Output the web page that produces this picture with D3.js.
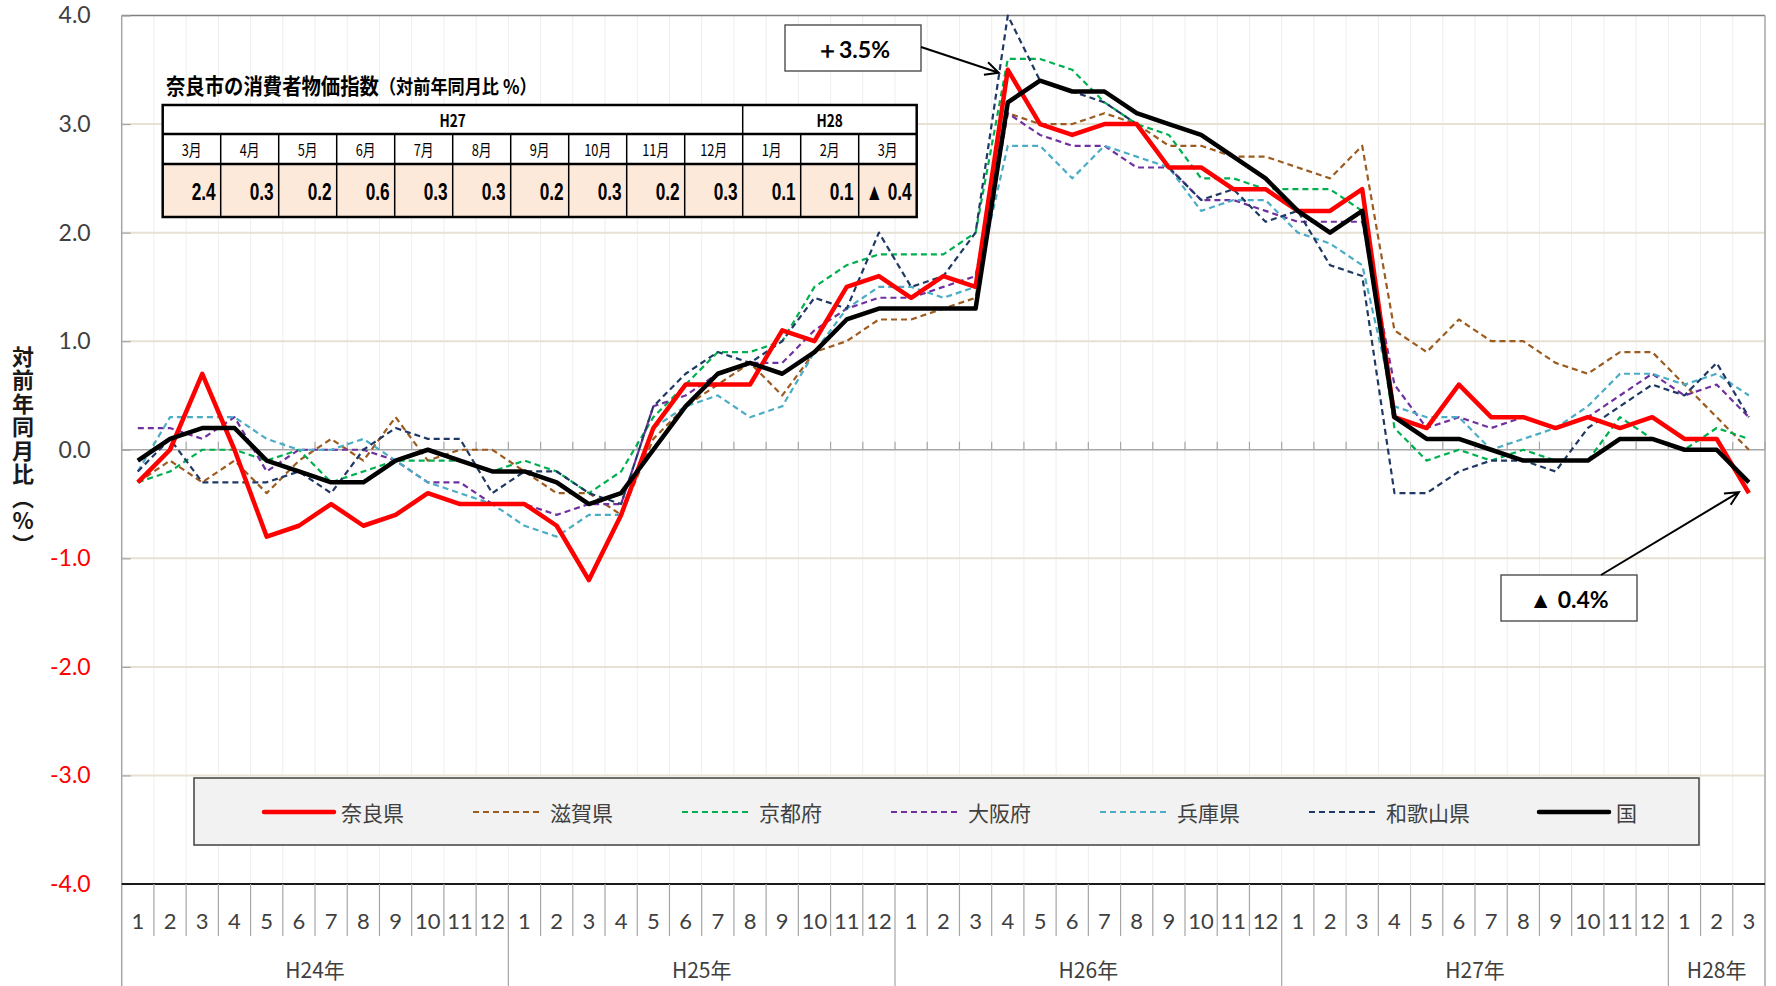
<!DOCTYPE html>
<html lang="ja">
<head>
<meta charset="utf-8">
<title>奈良県 消費者物価指数 対前年同月比</title>
<script src="https://d3js.org/d3.v7.min.js"></script>
<style>
  body { margin: 0; background: #fff; }
  svg { display: block; }
  .num { font-family: Lato, "Noto Sans", sans-serif; }
  .jp { font-family: "Noto Sans CJK JP", "Noto Sans", sans-serif; }
</style>
</head>
<body>
<svg id="chart" width="1776" height="986"></svg>
<script>
// ---- data ----
var monthLabels = ["1","2","3","4","5","6","7","8","9","10","11","12",
                   "1","2","3","4","5","6","7","8","9","10","11","12",
                   "1","2","3","4","5","6","7","8","9","10","11","12",
                   "1","2","3","4","5","6","7","8","9","10","11","12",
                   "1","2","3"];
var yearLabels = ["H24年", "H25年", "H26年", "H27年", "H28年"];
var yearLengths = [12, 12, 12, 12, 3];
var yTicks = [-4, -3, -2, -1, 0, 1, 2, 3, 4];

var seriesNames = ["奈良県", "滋賀県", "京都府", "大阪府", "兵庫県", "和歌山県", "国"];

var nara = [-0.3, 0.0, 0.7, 0.0, -0.8, -0.7, -0.5, -0.7, -0.6, -0.4, -0.5, -0.5,
            -0.5, -0.7, -1.2, -0.6, 0.2, 0.6, 0.6, 0.6, 1.1, 1.0, 1.5, 1.6,
            1.4, 1.6, 1.5, 3.5, 3.0, 2.9, 3.0, 3.0, 2.6, 2.6, 2.4, 2.4,
            2.2, 2.2, 2.4, 0.3, 0.2, 0.6, 0.3, 0.3, 0.2, 0.3, 0.2, 0.3,
            0.1, 0.1, -0.4];
var shiga = [-0.3, -0.1, -0.3, -0.1, -0.4, -0.1, 0.1, -0.1, 0.3, -0.1, 0.0, 0.0,
             -0.2, -0.4, -0.4, -0.6, 0.1, 0.4, 0.6, 0.8, 0.5, 0.9, 1.0, 1.2,
             1.2, 1.3, 1.4, 3.1, 3.0, 3.0, 3.1, 3.0, 2.8, 2.8, 2.7, 2.7,
             2.6, 2.5, 2.8, 1.1, 0.9, 1.2, 1.0, 1.0, 0.8, 0.7, 0.9, 0.9,
             0.6, 0.3, 0.0];
var kyoto = [-0.3, -0.2, 0.0, 0.0, -0.1, 0.0, -0.3, -0.2, -0.1, -0.1, -0.1, -0.2,
             -0.1, -0.2, -0.4, -0.2, 0.3, 0.6, 0.9, 0.9, 1.0, 1.5, 1.7, 1.8,
             1.8, 1.8, 2.0, 3.6, 3.6, 3.5, 3.2, 3.0, 2.9, 2.5, 2.5, 2.4,
             2.4, 2.4, 2.2, 0.2, -0.1, 0.0, -0.1, 0.0, -0.1, -0.1, 0.3, 0.1,
             0.0, 0.2, 0.1];
var osaka = [0.2, 0.2, 0.1, 0.3, -0.2, 0.0, 0.0, 0.0, -0.1, -0.3, -0.3, -0.5,
             -0.5, -0.6, -0.5, -0.5, 0.4, 0.5, 0.7, 0.8, 0.8, 1.1, 1.3, 1.4,
             1.4, 1.5, 1.6, 3.1, 2.9, 2.8, 2.8, 2.6, 2.6, 2.3, 2.3, 2.2,
             2.1, 2.1, 2.1, 0.6, 0.2, 0.3, 0.2, 0.3, 0.2, 0.3, 0.5, 0.7,
             0.5, 0.6, 0.3];
var hyogo = [-0.2, 0.3, 0.3, 0.3, 0.1, 0.0, 0.0, 0.1, -0.1, -0.3, -0.4, -0.5,
             -0.7, -0.8, -0.6, -0.6, 0.2, 0.4, 0.5, 0.3, 0.4, 0.9, 1.3, 1.5,
             1.5, 1.4, 1.5, 2.8, 2.8, 2.5, 2.8, 2.7, 2.6, 2.2, 2.3, 2.3,
             2.0, 1.9, 1.7, 0.4, 0.3, 0.3, 0.0, 0.1, 0.2, 0.4, 0.7, 0.7,
             0.6, 0.7, 0.5];
var wakayama = [-0.2, 0.1, -0.3, -0.3, -0.3, -0.2, -0.4, 0.0, 0.2, 0.1, 0.1, -0.4,
                -0.2, -0.2, -0.4, -0.5, 0.4, 0.7, 0.9, 0.8, 1.0, 1.4, 1.3, 2.0,
                1.5, 1.6, 2.0, 4.0, 3.4, 3.3, 3.2, 3.0, 2.6, 2.3, 2.4, 2.1,
                2.2, 1.7, 1.6, -0.4, -0.4, -0.2, -0.1, -0.1, -0.2, 0.2, 0.4, 0.6,
                0.5, 0.8, 0.3];
var kuni = [-0.1, 0.1, 0.2, 0.2, -0.1, -0.2, -0.3, -0.3, -0.1, 0.0, -0.1, -0.2,
            -0.2, -0.3, -0.5, -0.4, 0.0, 0.4, 0.7, 0.8, 0.7, 0.9, 1.2, 1.3,
            1.3, 1.3, 1.3, 3.2, 3.4, 3.3, 3.3, 3.1, 3.0, 2.9, 2.7, 2.5,
            2.2, 2.0, 2.2, 0.3, 0.1, 0.1, 0.0, -0.1, -0.1, -0.1, 0.1, 0.1,
            0.0, 0.0, -0.3];

// inset table (奈良市)
var tableYears = ["H27", "H28"];
var tableYearSpans = [10, 3];
var tableMonths = ["3月","4月","5月","6月","7月","8月","9月","10月","11月","12月","1月","2月","3月"];
var tableValues = [2.4, 0.3, 0.2, 0.6, 0.3, 0.3, 0.2, 0.3, 0.2, 0.3, 0.1, 0.1, -0.4];

// ---- styles ----
var seriesValues = [nara, shiga, kyoto, osaka, hyogo, wakayama, kuni];
var seriesStyle = {
    "奈良県":   {color: "#ff0000", width: 4.5, dash: null},
    "滋賀県":   {color: "#9c5b1f", width: 2.2, dash: "6,4"},
    "京都府":   {color: "#00b050", width: 2.2, dash: "6,4"},
    "大阪府":   {color: "#7030a0", width: 2.2, dash: "6,4"},
    "兵庫県":   {color: "#4bacc6", width: 2.2, dash: "6,4"},
    "和歌山県": {color: "#1f3864", width: 2.2, dash: "6,4"},
    "国":       {color: "#000000", width: 4.5, dash: null}
};

var svg = d3.select("#chart");
var plotL = 121.7, plotR = 1765, plotT = 15.5, plotB = 884;

var x = d3.scaleBand().domain(d3.range(monthLabels.length)).range([plotL, plotR]).padding(0);
var y = d3.scaleLinear().domain([-4, 4]).range([plotB, plotT]);
var bw = x.bandwidth();
function xc(i) { return x(i) + bw / 2; }

// vertical grid (month boundaries)
svg.append("g").selectAll("line")
    .data(d3.range(1, monthLabels.length))
    .enter().append("line")
    .attr("x1", function(i) { return x(i); }).attr("x2", function(i) { return x(i); })
    .attr("y1", plotT).attr("y2", plotB)
    .attr("stroke", "#eeeeee").attr("stroke-width", 1);

// horizontal grid
svg.append("g").selectAll("line")
    .data(yTicks.filter(function(d) { return d !== 0 && d !== 4 && d !== -4; }))
    .enter().append("line")
    .attr("x1", plotL).attr("x2", plotR)
    .attr("y1", function(d) { return y(d); }).attr("y2", function(d) { return y(d); })
    .attr("stroke", "#e6e1d3").attr("stroke-width", 2);

// plot border top / right
svg.append("line").attr("x1", plotL).attr("x2", plotR).attr("y1", plotT).attr("y2", plotT)
    .attr("stroke", "#7f7f7f").attr("stroke-width", 1.5);
svg.append("line").attr("x1", plotR).attr("x2", plotR).attr("y1", plotT).attr("y2", 986)
    .attr("stroke", "#a6a6a6").attr("stroke-width", 1.5);

// zero line with ticks
svg.append("line").attr("x1", plotL).attr("x2", plotR).attr("y1", y(0)).attr("y2", y(0))
    .attr("stroke", "#a6a6a6").attr("stroke-width", 1.5);
svg.append("g").selectAll("line")
    .data(d3.range(0, monthLabels.length + 1))
    .enter().append("line")
    .attr("x1", function(i) { return plotL + i * bw; }).attr("x2", function(i) { return plotL + i * bw; })
    .attr("y1", y(0)).attr("y2", y(0) - 8)
    .attr("stroke", "#a6a6a6").attr("stroke-width", 1.2);

// y axis
var yAxis = svg.append("g")
    .attr("transform", "translate(" + plotL + ",0)")
    .call(d3.axisLeft(y).tickValues(yTicks)
        .tickFormat(function(d) { return d.toFixed(1); })
        .tickSizeInner(-9).tickSizeOuter(0).tickPadding(31));
yAxis.select(".domain").remove();
yAxis.selectAll(".tick line").attr("stroke", "#a6a6a6").attr("stroke-width", 1.2);
yAxis.selectAll(".tick text")
    .attr("class", "num")
    .style("font-size", "23px")
    .attr("fill", function(d) { return d < 0 ? "#ff0000" : "#404040"; });
svg.append("line").attr("x1", plotL).attr("x2", plotL).attr("y1", plotT).attr("y2", 986)
    .attr("stroke", "#a6a6a6").attr("stroke-width", 1.5);

// y axis title (vertical)
svg.append("text")
    .attr("class", "jp")
    .attr("x", 23).attr("y", 451)
    .attr("text-anchor", "middle")
    .style("writing-mode", "vertical-rl")
    .style("text-orientation", "upright")
    .style("font-size", "22px").style("font-weight", "bold")
    .style("letter-spacing", "1.5px")
    .attr("fill", "#1a1a1a")
    .text("対前年同月比（%）");

// bottom category axis
svg.append("line").attr("x1", plotL).attr("x2", plotR).attr("y1", plotB).attr("y2", plotB)
    .attr("stroke", "#1a1a1a").attr("stroke-width", 2);
var yearStarts = [0].concat(Array.from(d3.cumsum(yearLengths)));
svg.append("g").selectAll("line")
    .data(d3.range(1, monthLabels.length))
    .enter().append("line")
    .attr("x1", function(i) { return x(i); }).attr("x2", function(i) { return x(i); })
    .attr("y1", plotB)
    .attr("y2", function(i) { return yearStarts.indexOf(i) >= 0 ? 986 : 936; })
    .attr("stroke", "#a6a6a6").attr("stroke-width", 1.2);

svg.append("g").selectAll("text")
    .data(monthLabels)
    .enter().append("text")
    .attr("class", "num")
    .attr("x", function(d, i) { return xc(i); })
    .attr("y", 920)
    .attr("text-anchor", "middle").attr("dominant-baseline", "central")
    .style("font-size", "22px").attr("fill", "#404040")
    .text(function(d) { return d; });

svg.append("g").selectAll("text")
    .data(yearLabels)
    .enter().append("text")
    .attr("class", "jp")
    .attr("x", function(d, k) {
        var a = x(yearStarts[k]), b = x(yearStarts[k + 1] - 1) + bw;
        return (a + b) / 2;
    })
    .attr("y", 969)
    .attr("text-anchor", "middle").attr("dominant-baseline", "central")
    .style("font-size", "21px").attr("fill", "#404040")
    .text(function(d) { return d; });

// series lines
var line = d3.line()
    .x(function(d, i) { return xc(i); })
    .y(function(d) { return y(d); });

var order = [1, 2, 3, 4, 5, 0, 6];
order.forEach(function(k) {
    var st = seriesStyle[seriesNames[k]];
    svg.append("path")
        .datum(seriesValues[k])
        .attr("fill", "none")
        .attr("stroke", st.color)
        .attr("stroke-width", st.width)
        .attr("stroke-dasharray", st.dash)
        .attr("stroke-linejoin", "round")
        .attr("d", line);
});

// legend
var lg = svg.append("g");
lg.append("rect").attr("x", 194).attr("y", 778).attr("width", 1505).attr("height", 67)
    .attr("fill", "#f2f2f2").attr("stroke", "#404040").attr("stroke-width", 1.5);
var lx = 264;
seriesNames.forEach(function(name) {
    var st = seriesStyle[name];
    lg.append("line").attr("x1", lx).attr("x2", lx + 70).attr("y1", 812).attr("y2", 812)
        .attr("stroke", st.color).attr("stroke-width", st.width)
        .attr("stroke-dasharray", st.dash)
        .attr("stroke-linecap", st.dash ? "butt" : "round");
    var t = lg.append("text").attr("class", "jp")
        .attr("x", lx + 77).attr("y", 812).attr("dominant-baseline", "central")
        .style("font-size", "21px").attr("fill", "#404040").text(name);
    lx = lx + 77 + t.node().getComputedTextLength() + 69;
});

// inset table
var tx = d3.scaleBand().domain(d3.range(tableMonths.length)).range([162.7, 916.7]);
var rowY = [105, 134, 164, 217];
var tb = svg.append("g");
tb.append("text").attr("class", "jp")
    .attr("transform", "translate(166,94) scale(0.88,1)")
    .style("font-size", "22px").style("font-weight", "bold").attr("fill", "#000")
    .text("奈良市の消費者物価指数")
    .append("tspan").style("font-size", "19.5px").text("（対前年同月比 %）");

tb.selectAll("rect.v").data(tableValues).enter().append("rect")
    .attr("x", function(d, i) { return tx(i); }).attr("y", rowY[2])
    .attr("width", tx.bandwidth()).attr("height", rowY[3] - rowY[2])
    .attr("fill", "#fce9da");
tb.append("rect").attr("x", tx.range()[0]).attr("y", rowY[0])
    .attr("width", tx.range()[1] - tx.range()[0]).attr("height", rowY[2] - rowY[0])
    .attr("fill", "#fff");

// table grid lines
tb.selectAll("line.c").data(d3.range(1, tableMonths.length)).enter().append("line")
    .attr("x1", function(i) { return tx(i); }).attr("x2", function(i) { return tx(i); })
    .attr("y1", rowY[1]).attr("y2", rowY[3])
    .attr("stroke", "#000").attr("stroke-width", 1.5);
var tableYearStarts = [0].concat(Array.from(d3.cumsum(tableYearSpans)));
tb.append("line")
    .attr("x1", tx(tableYearStarts[1])).attr("x2", tx(tableYearStarts[1]))
    .attr("y1", rowY[0]).attr("y2", rowY[1])
    .attr("stroke", "#000").attr("stroke-width", 1.5);
[rowY[1], rowY[2]].forEach(function(yy) {
    tb.append("line").attr("x1", tx.range()[0]).attr("x2", tx.range()[1])
        .attr("y1", yy).attr("y2", yy).attr("stroke", "#000").attr("stroke-width", 2.5);
});
tb.append("rect").attr("x", tx.range()[0]).attr("y", rowY[0])
    .attr("width", tx.range()[1] - tx.range()[0]).attr("height", rowY[3] - rowY[0])
    .attr("fill", "none").attr("stroke", "#000").attr("stroke-width", 2.5);

tb.selectAll("text.yr").data(tableYears).enter().append("text")
    .attr("class", "jp")
    .attr("transform", function(d, k) {
        var a = tx(tableYearStarts[k]), b = tx(tableYearStarts[k + 1] - 1) + tx.bandwidth();
        return "translate(" + ((a + b) / 2) + "," + ((rowY[0] + rowY[1]) / 2) + ") scale(0.8,1)";
    })
    .attr("text-anchor", "middle").attr("dominant-baseline", "central")
    .style("font-size", "17px").style("font-weight", "bold")
    .text(function(d) { return d; });

tb.selectAll("text.mo").data(tableMonths).enter().append("text")
    .attr("class", "jp")
    .attr("transform", function(d, i) {
        return "translate(" + (tx(i) + tx.bandwidth() / 2) + "," + ((rowY[1] + rowY[2]) / 2) + ") scale(0.8,1)";
    })
    .attr("text-anchor", "middle").attr("dominant-baseline", "central")
    .style("font-size", "16px")
    .text(function(d) { return d; });

tb.selectAll("text.val").data(tableValues).enter().append("text")
    .attr("transform", function(d, i) {
        return "translate(" + (tx(i) + tx.bandwidth() - 5) + "," + ((rowY[2] + rowY[3]) / 2 + 1) + ") scale(0.72,1)";
    })
    .attr("text-anchor", "end").attr("dominant-baseline", "central")
    .style("font-family", "'Liberation Sans', 'Noto Sans CJK JP', sans-serif")
    .style("font-size", "24px").style("font-weight", "bold")
    .text(function(d) { return d < 0 ? "▲ " + Math.abs(d).toFixed(1) : d.toFixed(1); });

// annotations
function arrow(x1, y1, x2, y2) {
    var a = Math.atan2(y2 - y1, x2 - x1), L = 15, s = 0.45;
    var p = d3.path();
    p.moveTo(x1, y1); p.lineTo(x2, y2);
    p.moveTo(x2 - L * Math.cos(a - s), y2 - L * Math.sin(a - s));
    p.lineTo(x2, y2);
    p.lineTo(x2 - L * Math.cos(a + s), y2 - L * Math.sin(a + s));
    svg.append("path").attr("d", p.toString()).attr("fill", "none")
        .attr("stroke", "#000").attr("stroke-width", 2);
}
function callout(bx, by, bwid, bh, label) {
    svg.append("rect").attr("x", bx).attr("y", by).attr("width", bwid).attr("height", bh)
        .attr("fill", "#fff").attr("stroke", "#404040").attr("stroke-width", 1.3);
    svg.append("text").attr("class", "num")
        .attr("x", bx + bwid / 2).attr("y", by + bh / 2 + 1)
        .attr("text-anchor", "middle").attr("dominant-baseline", "central")
        .style("font-size", "23px").style("font-weight", "bold").attr("fill", "#000")
        .text(label);
}
var peakI = 27, lastI = nara.length - 1;
callout(785, 25, 136, 46, "＋" + nara[peakI].toFixed(1) + "%");
arrow(921, 47, xc(peakI) - 9, y(nara[peakI]) + 3);
callout(1501, 575, 136, 46, "▲ " + Math.abs(nara[lastI]).toFixed(1) + "%");
arrow(1601, 575, xc(lastI) - 10, y(nara[lastI]) - 1);
</script>
</body>
</html>
